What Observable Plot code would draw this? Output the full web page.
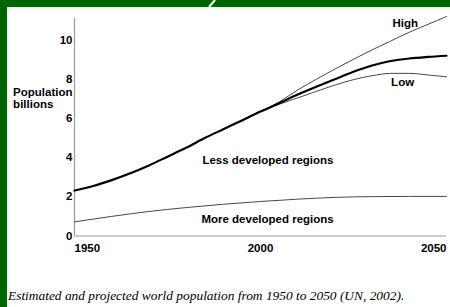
<!DOCTYPE html>
<html>
<head>
<meta charset="utf-8">
<script src="https://cdn.jsdelivr.net/npm/d3@7"></script>
<script src="https://cdn.jsdelivr.net/npm/@observablehq/plot@0.6"></script>
<style>
  html, body { margin: 0; padding: 0; }
  #frame { position: relative; width: 450px; height: 307px; background: #006400; overflow: hidden; }
  #panel { position: absolute; left: 7px; top: 7px; width: 443px; height: 300px; background: #fff; }
  #slash { position: absolute; left: 0; top: 0; }
  #caption { position: absolute; left: 1px; top: 281px; font: italic 13.4px "Liberation Serif", "Times New Roman", serif; color: #000; white-space: nowrap; }
  #chart svg { display: block; }
</style>
</head>
<body>
<div id="frame">
  <div id="panel">
    <div id="chart"></div>
    <div id="caption">Estimated and projected world population from 1950 to 2050 (UN, 2002).</div>
  </div>
  <svg id="slash" width="450" height="8"><line x1="209" y1="7" x2="215" y2="0" stroke="#fff" stroke-width="2"/></svg>
</div>
<script>
// World total (medium variant), billions
const worldYears = [1950,1955,1960,1965,1970,1975,1980,1985,1990,1995,2000,2005,2010,2015,2020,2025,2030,2035,2040,2045,2050];
const worldMedium = [2.32,2.55,2.85,3.2,3.6,4.05,4.5,5.0,5.45,5.9,6.35,6.78,7.22,7.62,8.0,8.38,8.7,8.93,9.06,9.14,9.2];

// Projection variants
const projYears = [2000,2005,2010,2015,2020,2025,2030,2035,2040,2045,2050];
const highVariant = [6.35,6.84,7.45,8.0,8.52,9.02,9.5,9.95,10.4,10.8,11.2];
const lowVariant  = [6.35,6.72,7.05,7.38,7.7,7.98,8.18,8.3,8.3,8.22,8.12];

// More developed regions
const devYears = [1950,1960,1970,1980,1990,2000,2010,2020,2030,2040,2050];
const moreDeveloped = [0.72,1.0,1.25,1.45,1.62,1.76,1.88,1.97,2.01,2.02,2.02];

// Axis ticks
const yTicks = [0,2,4,6,8,10];
const xTickStart = [1950], xTickMid = [2000], xTickEnd = [2050];

// Annotation labels (data coordinates)
const labelText = ["High","Low","Less developed regions","More developed regions","Population\nbillions"];
const labelYear = [2038.9,2038.2,2002,2001.9,1933.5];
const labelValue = [10.87,7.83,3.88,0.875,7.04];

const toRows = (xs, ys) => xs.map((x, i) => ({year: x, value: ys[i]}));
const world = toRows(worldYears, worldMedium);
const high = toRows(projYears, highVariant);
const low = toRows(projYears, lowVariant);
const dev = toRows(devYears, moreDeveloped);
const labels = labelText.map((t, i) => ({text: t, year: labelYear[i], value: labelValue[i]}));
const centered = labels.filter(d => !d.text.startsWith("Population"));
const yLabel = labels.filter(d => d.text.startsWith("Population"));

const font = '"Liberation Sans", Arial, sans-serif';
const xAxisCommon = {tickSize: 0, tickPadding: 7.5, tickFormat: "d", fontWeight: "bold", fontSize: 11.5, label: null, fill: "#000"};

const chart = Plot.plot({
  width: 443,
  height: 262,
  marginLeft: 67,
  marginRight: 4,
  marginTop: 11,
  marginBottom: 33.5,
  style: {fontFamily: font, fontSize: "11.5px", background: "#fff", overflow: "visible"},
  x: {domain: [1950, 2050]},
  y: {domain: [0, 11.1]},
  marks: [
    Plot.ruleX([1950], {stroke: "#999", strokeWidth: 1.2}),
    Plot.ruleY([0], {stroke: "#999", strokeWidth: 1.2}),
    Plot.axisY({ticks: yTicks, tickSize: 0, tickPadding: 2, fontWeight: "bold", fontSize: 11.5, label: null, fill: "#000"}),
    Plot.axisX({ticks: xTickStart, textAnchor: "start", ...xAxisCommon}),
    Plot.axisX({ticks: xTickMid, textAnchor: "middle", ...xAxisCommon}),
    Plot.axisX({ticks: xTickEnd, textAnchor: "end", ...xAxisCommon}),
    Plot.line(dev, {x: "year", y: "value", stroke: "#333", strokeWidth: 0.9, curve: "monotone-x"}),
    Plot.line(high, {x: "year", y: "value", stroke: "#333", strokeWidth: 0.9, curve: "monotone-x"}),
    Plot.line(low, {x: "year", y: "value", stroke: "#333", strokeWidth: 0.9, curve: "monotone-x"}),
    Plot.line(world, {x: "year", y: "value", stroke: "#000", strokeWidth: 2.2, curve: "monotone-x"}),
    Plot.text(centered, {x: "year", y: "value", text: "text", fontWeight: "bold", fontSize: 11.5, fill: "#000"}),
    Plot.text(yLabel, {x: "year", y: "value", text: "text", fontWeight: "bold", fontSize: 11.5, fill: "#000", textAnchor: "start", lineHeight: 1.07})
  ]
});
document.getElementById("chart").appendChild(chart);
</script>
</body>
</html>
